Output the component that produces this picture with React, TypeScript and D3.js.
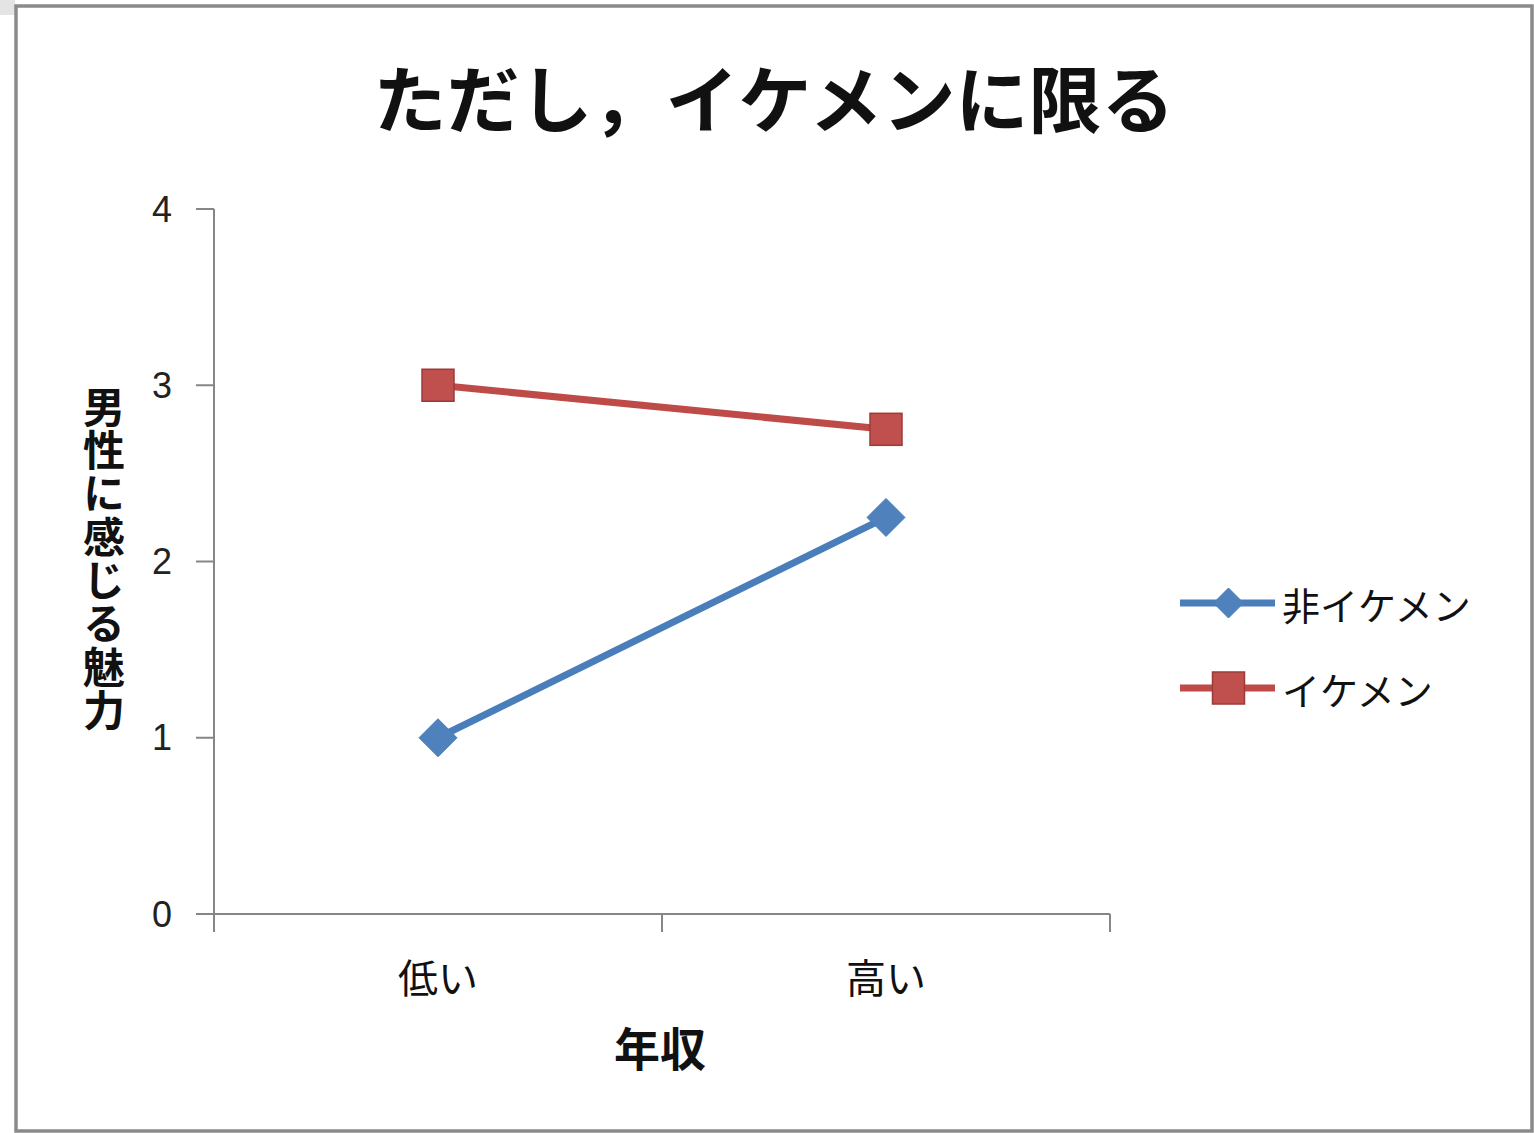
import React from "react";
import * as d3 from "d3";

// Chart data
const categories: string[] = ["低い", "高い"];
const seriesNames: string[] = ["非イケメン", "イケメン"];
const nonIkemenValues: number[] = [1, 2.25];
const ikemenValues: number[] = [3, 2.75];
const yTicks: number[] = [0, 1, 2, 3, 4];

const titleText = "ただし，イケメンに限る";
const yAxisTitle = "男性に感じる魅力";
const xAxisTitle = "年収";

const W = 1534;
const H = 1133;
const JP = "'Noto Sans CJK JP', 'Noto Sans', sans-serif";
const NUM = "'Liberation Sans', Arial, sans-serif";

const BLUE_LINE = "#4A7EBB";
const BLUE_FILL = "#4F81BD";
const RED_LINE = "#BE4B48";
const RED_FILL = "#C0504D";
const RED_EDGE = "#9B3B38";
const AXIS = "#868686";

export default function App() {
  const plot = { left: 214, right: 1110, top: 209, bottom: 914 };

  const x = d3
    .scaleBand<string>()
    .domain(categories)
    .range([plot.left, plot.right])
    .padding(0);
  const y = d3.scaleLinear().domain([0, 4]).range([plot.bottom, plot.top]);
  const cx = (c: string) => (x(c) as number) + x.bandwidth() / 2;

  const line = d3
    .line<number>()
    .x((_, i) => cx(categories[i]))
    .y((v) => y(v));

  const series = [
    { name: seriesNames[0], values: nonIkemenValues, stroke: BLUE_LINE, fill: BLUE_FILL, marker: "diamond" },
    { name: seriesNames[1], values: ikemenValues, stroke: RED_LINE, fill: RED_FILL, marker: "square" },
  ];

  const diamond = (px: number, py: number, r: number) =>
    `M${px},${py - r}L${px + r},${py}L${px},${py + r}L${px - r},${py}Z`;

  const drawMarker = (kind: string, px: number, py: number, fill: string, big: boolean, key: string) => {
    if (kind === "diamond") {
      const r = big ? 19 : 15;
      return <path key={key} d={diamond(px, py, r)} fill={fill} stroke={BLUE_LINE} strokeWidth={1} />;
    }
    const s = 32;
    return (
      <rect key={key} x={px - s / 2} y={py - s / 2} width={s} height={s} fill={fill} stroke={RED_EDGE} strokeWidth={1.5} />
    );
  };

  const xTickPositions = [...categories.map((c) => x(c) as number), plot.right];

  const legendX0 = 1180;
  const legendX1 = 1275;
  const legendYs = [603, 688];

  return (
    <svg
      width={W}
      height={H}
      style={{ position: "absolute", left: 0, top: 0, background: "#ffffff" }}
    >
      {/* window frame */}
      <rect x={0} y={0} width={15} height={15} fill="#e4e4e4" />
      <rect x={16} y={6} width={1516} height={1125} fill="#ffffff" stroke="#8a8a8a" strokeWidth={3.5} />

      {/* title */}
      <text
        x={774}
        y={95}
        textAnchor="middle"
        dominantBaseline="central"
        fontFamily={JP}
        fontWeight={700}
        fontSize={73}
        fill="#111"
      >
        {titleText}
      </text>

      {/* y axis */}
      <line x1={plot.left} x2={plot.left} y1={plot.top} y2={plot.bottom + 18} stroke={AXIS} strokeWidth={2} />
      {yTicks.map((t) => (
        <g key={`yt-${t}`}>
          <line x1={plot.left - 18} x2={plot.left} y1={y(t)} y2={y(t)} stroke={AXIS} strokeWidth={2} />
          <text
            x={172}
            y={y(t)}
            textAnchor="end"
            dominantBaseline="central"
            fontFamily={NUM}
            fontSize={36}
            fill="#222"
          >
            {t}
          </text>
        </g>
      ))}

      {/* x axis */}
      <line x1={plot.left} x2={plot.right} y1={plot.bottom} y2={plot.bottom} stroke={AXIS} strokeWidth={2} />
      {xTickPositions.map((px, i) => (
        <line key={`xt-${i}`} x1={px} x2={px} y1={plot.bottom} y2={plot.bottom + 18} stroke={AXIS} strokeWidth={2} />
      ))}
      {categories.map((c) => (
        <text
          key={`xl-${c}`}
          x={cx(c)}
          y={976}
          textAnchor="middle"
          dominantBaseline="central"
          fontFamily={JP}
          fontSize={40}
          fill="#111"
        >
          {c}
        </text>
      ))}

      {/* axis titles */}
      <text
        x={660}
        y={1046}
        textAnchor="middle"
        dominantBaseline="central"
        fontFamily={JP}
        fontWeight={700}
        fontSize={46}
        fill="#111"
      >
        {xAxisTitle}
      </text>
      <text
        x={104}
        y={559}
        textAnchor="middle"
        fontFamily={JP}
        fontWeight={700}
        fontSize={42}
        letterSpacing={1.3}
        fill="#111"
        style={{ writingMode: "vertical-rl", textOrientation: "upright" } as React.CSSProperties}
      >
        {yAxisTitle}
      </text>

      {/* series */}
      {series.map((s) => (
        <g key={`s-${s.name}`}>
          <path d={line(s.values) || ""} fill="none" stroke={s.stroke} strokeWidth={7} />
          {s.values.map((v, i) =>
            drawMarker(s.marker, cx(categories[i]), y(v), s.fill, true, `m-${s.name}-${i}`)
          )}
        </g>
      ))}

      {/* legend */}
      {series.map((s, i) => (
        <g key={`lg-${s.name}`}>
          <line x1={legendX0} x2={legendX1} y1={legendYs[i]} y2={legendYs[i]} stroke={s.stroke} strokeWidth={7} />
          {drawMarker(s.marker, (legendX0 + legendX1) / 2 + 1, legendYs[i], s.fill, false, `lm-${i}`)}
          <text
            x={1282}
            y={legendYs[i]}
            dominantBaseline="central"
            fontFamily={JP}
            fontSize={38}
            fill="#111"
          >
            {s.name}
          </text>
        </g>
      ))}
    </svg>
  );
}
